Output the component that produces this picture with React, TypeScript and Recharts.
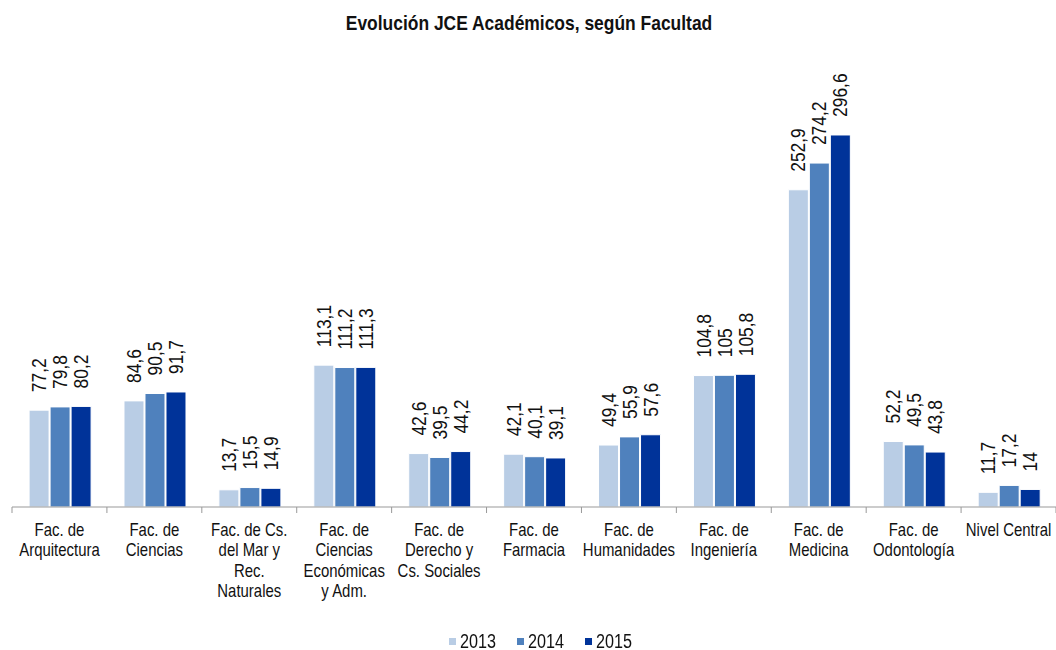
import { BarChart, Bar, XAxis, YAxis, Legend, LabelList } from 'recharts'

const categories = [
  'Fac. de\nArquitectura',
  'Fac. de\nCiencias',
  'Fac. de Cs.\ndel Mar y\nRec.\nNaturales',
  'Fac. de\nCiencias\nEconómicas\ny Adm.',
  'Fac. de\nDerecho y\nCs. Sociales',
  'Fac. de\nFarmacia',
  'Fac. de\nHumanidades',
  'Fac. de\nIngeniería',
  'Fac. de\nMedicina',
  'Fac. de\nOdontología',
  'Nivel Central',
]

const values2013 = [77.2, 84.6, 13.7, 113.1, 42.6, 42.1, 49.4, 104.8, 252.9, 52.2, 11.7]
const values2014 = [79.8, 90.5, 15.5, 111.2, 39.5, 40.1, 55.9, 105, 274.2, 49.5, 17.2]
const values2015 = [80.2, 91.7, 14.9, 111.3, 44.2, 39.1, 57.6, 105.8, 296.6, 43.8, 14]

const series = [
  { key: 'y2013', name: '2013', color: '#B9CDE5' },
  { key: 'y2014', name: '2014', color: '#4F81BD' },
  { key: 'y2015', name: '2015', color: '#003399' },
]

const data = categories.map((c, i) => ({
  cat: c,
  y2013: values2013[i],
  y2014: values2014[i],
  y2015: values2015[i],
}))

// narrow look of the original font: regular sans squeezed horizontally
const FONT = '"Liberation Sans", Arial, sans-serif'
const SQUEEZE = 0.83
const W = 1056
const H = 650
const M = { top: 68, right: 0, bottom: 0, left: 12 }
const band = (W - M.left - M.right) / categories.length

const fmt = (v: number) => String(v).replace('.', ',')

function CatTick({ x, y, payload, index }: any) {
  const lines = String(payload.value).split('\n')
  const last = index === categories.length - 1
  return (
    <g>
      <line x1={x - band / 2} x2={x - band / 2} y1={y - 8} y2={y - 2} stroke="#999" />
      {last && <line x1={x + band / 2} x2={x + band / 2} y1={y - 8} y2={y - 2} stroke="#999" />}
      <text
        transform={`translate(${x}, ${y + 21}) scale(${SQUEEZE}, 1)`}
        textAnchor="middle"
        fontFamily={FONT}
        fontSize={18}
        fill="#111"
      >
        {lines.map((l, i) => (
          <tspan key={i} x={0} dy={i === 0 ? 0 : 20.5}>
            {l}
          </tspan>
        ))}
      </text>
    </g>
  )
}

function ValueLabel({ x, y, width, value }: any) {
  const cx = x + width / 2
  const ty = y - 18
  return (
    <text
      transform={`translate(${cx}, ${ty}) rotate(-90) scale(${SQUEEZE}, 1)`}
      textAnchor="start"
      dominantBaseline="central"
      fontFamily={FONT}
      fontSize={21}
      fill="#111"
    >
      {fmt(value)}
    </text>
  )
}

function LegendBox() {
  return (
    <div
      style={{
        display: 'flex',
        justifyContent: 'center',
        alignItems: 'center',
        height: 20,
        paddingLeft: 12,
        fontFamily: FONT,
        fontSize: 19.5,
        lineHeight: '20px',
        color: '#111',
      }}
    >
      {series.map((s, i) => (
        <div key={s.key} style={{ display: 'flex', alignItems: 'center', marginRight: i < series.length - 1 ? 21 : 0 }}>
          <span style={{ display: 'inline-block', width: 7, height: 7, background: s.color, marginRight: 4 }} />
          <span style={{ display: 'inline-block', width: 36, whiteSpace: 'nowrap' }}>
            <span style={{ display: 'inline-block', transform: `scaleX(${SQUEEZE})`, transformOrigin: 'left center' }}>{s.name}</span>
          </span>
        </div>
      ))}
    </div>
  )
}

export default function App() {
  return (
    <div style={{ position: 'fixed', top: 0, left: 0, width: W, height: H, background: '#fff' }}>
      <div
        style={{
          position: 'absolute',
          top: 10,
          left: 0,
          width: W,
          textAlign: 'center',
          fontFamily: FONT,
          fontWeight: 'bold',
          fontSize: 21,
          lineHeight: '26px',
          color: '#111',
          zIndex: 1,
          transform: `scaleX(${SQUEEZE})`,
          transformOrigin: '534px center',
        }}
      >
        Evolución JCE Académicos, según Facultad
      </div>
      <BarChart width={W} height={H} data={data} margin={M} barCategoryGap="18%" barGap={1}>
        <XAxis
          dataKey="cat"
          interval={0}
          height={124}
          tickLine={false}
          axisLine={{ stroke: '#999' }}
          tick={<CatTick />}
        />
        <YAxis hide domain={[0, 350]} />
        <Legend verticalAlign="bottom" height={19} content={<LegendBox />} />
        {series.map((s) => (
          <Bar key={s.key} dataKey={s.key} name={s.name} fill={s.color} stroke="#fff" strokeWidth={1} isAnimationActive={false}>
            <LabelList dataKey={s.key} content={<ValueLabel />} />
          </Bar>
        ))}
      </BarChart>
    </div>
  )
}
